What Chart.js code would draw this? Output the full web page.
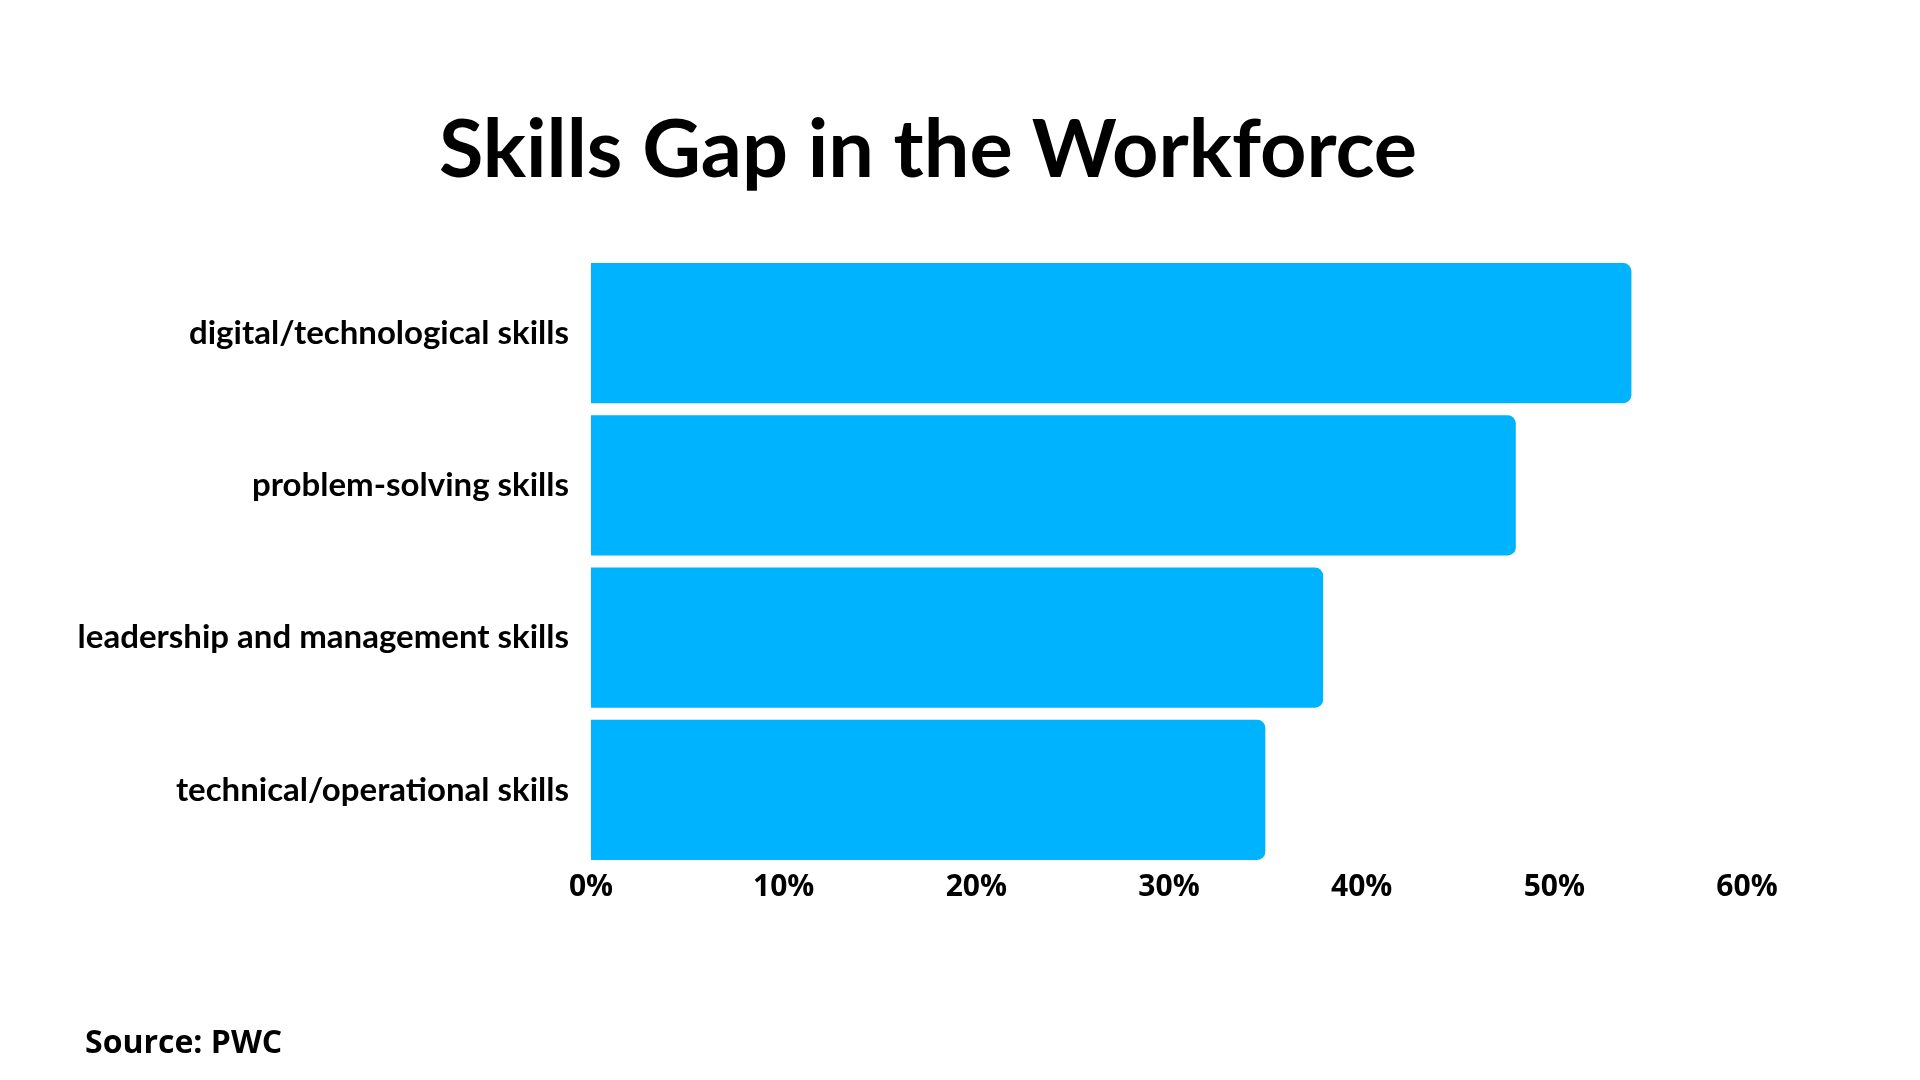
<!DOCTYPE html>
<html>
<head>
<meta charset="utf-8">
<script src="https://cdn.jsdelivr.net/npm/chart.js@4"></script>
<style>
  html, body { margin: 0; padding: 0; background: #fff; }
  #wrap { position: relative; width: 1920px; height: 1080px; }
  #title {
    position: absolute; left: 0; top: 105px; width: 1856px;
    text-align: center; font: 700 81px/1 'Lato', sans-serif; color: #000;
  }
  #source {
    position: absolute; left: 85px; top: 1025px;
    font: 700 32px/1 'Open Sans', sans-serif; color: #000;
  }
</style>
</head>
<body>
<div id="wrap">
  <canvas id="bar-chart" width="1920" height="1080"></canvas>
  <div id="title">Skills Gap in the Workforce</div>
  <div id="source">Source: PWC</div>
</div>
<script>
// chart values
var skillLabels = [
  'digital/technological skills',
  'problem-solving skills',
  'leadership and management skills',
  'technical/operational skills'
];
var gapPercent = [54, 48, 38, 35];
var tickMax = 60;
var tickStep = 10;

var barChart = new Chart(
  document.getElementById('bar-chart').getContext('2d'),
  {
    type: 'bar',
    data: {
      labels: skillLabels,
      datasets: [{
        data: gapPercent,
        backgroundColor: '#00B3FF',
        borderRadius: 8,
        borderSkipped: 'start',
        categoryPercentage: 1.0,
        barPercentage: 0.92
      }]
    },
    options: {
      responsive: false,
      animation: false,
      indexAxis: 'y',
      layout: { padding: { left: 0, right: 173, top: 257, bottom: 56 } },
      plugins: {
        legend: { display: false },
        tooltip: { enabled: false }
      },
      scales: {
        x: {
          min: 0,
          max: tickMax,
          grid: { display: false, drawTicks: false },
          border: { display: false },
          ticks: {
            stepSize: tickStep,
            color: '#000',
            padding: 3,
            font: { family: 'Open Sans', weight: '700', size: 30 },
            callback: function (v) { return v + '%'; }
          },
          afterFit: function (scale) { scale.height = 158; }
        },
        y: {
          grid: { display: false, drawTicks: false },
          border: { display: false },
          ticks: {
            color: '#000',
            padding: 22,
            font: { family: 'Lato', weight: '700', size: 33 }
          },
          afterFit: function (scale) { scale.width = 591; }
        }
      }
    }
  }
);
</script>
</body>
</html>
